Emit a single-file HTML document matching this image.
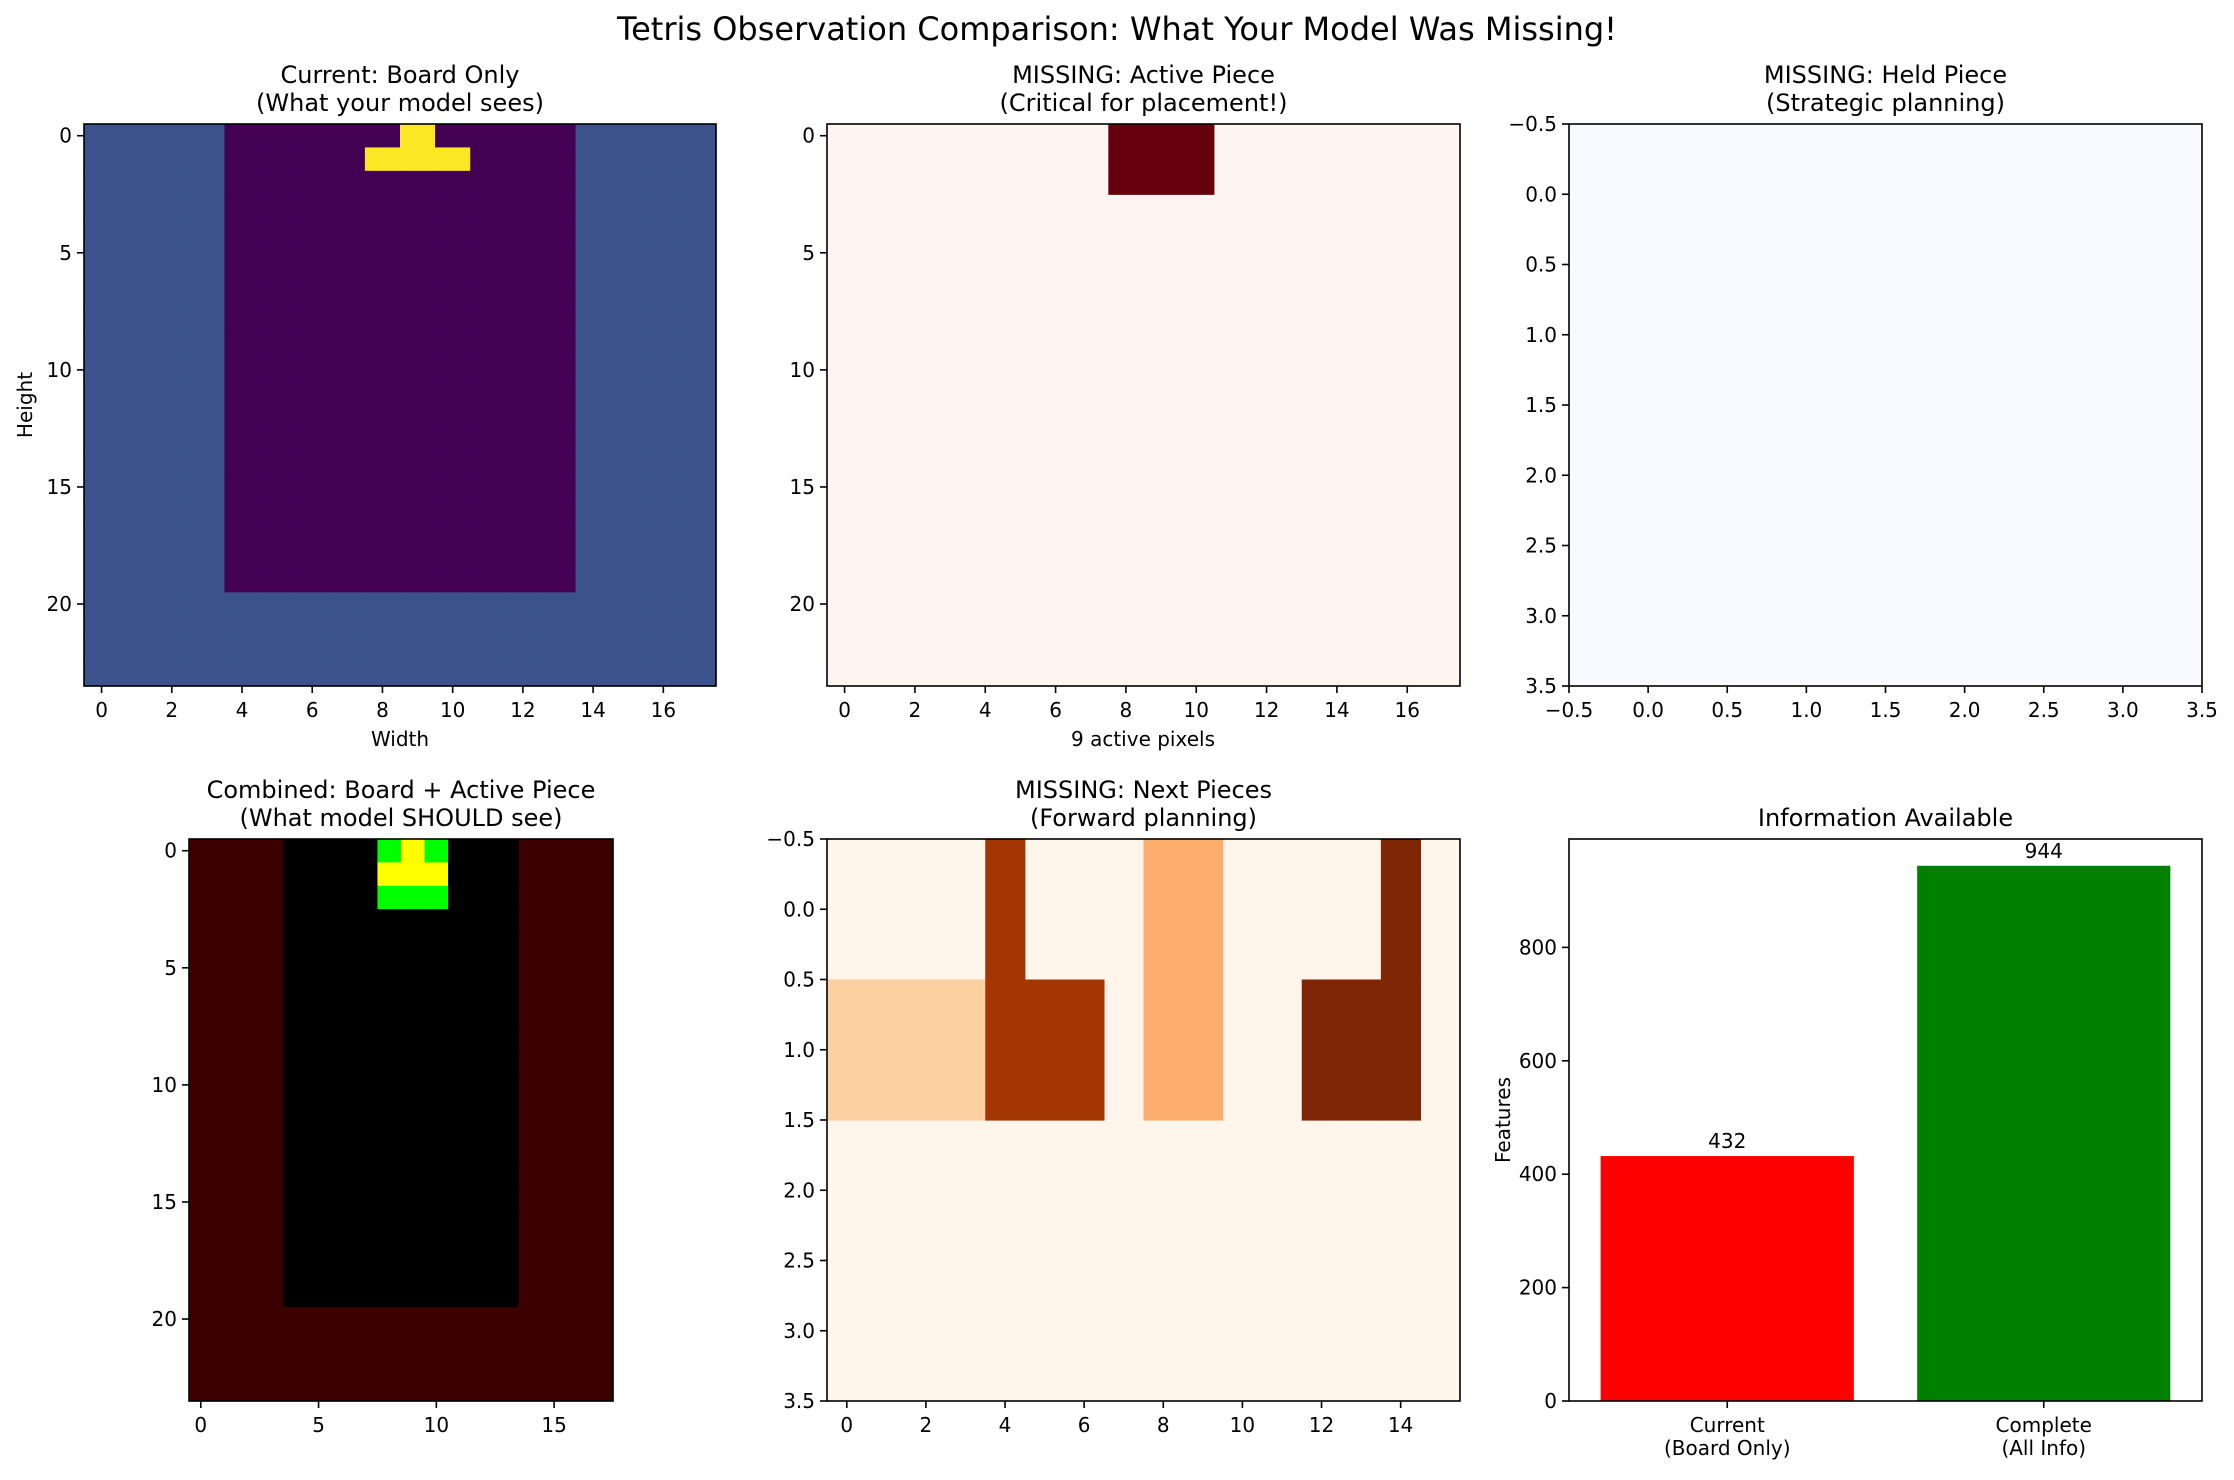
<!DOCTYPE html>
<html><head><meta charset="utf-8">
<style>
html,body{margin:0;padding:0;background:#fff;}
svg text{font-family:"DejaVu Sans","Liberation Sans",sans-serif;fill:#000;}
</style></head>
<body>
<svg id="fig" width="2234" height="1475" viewBox="0 0 2234 1475" xmlns="http://www.w3.org/2000/svg">
<rect width="2234" height="1475" fill="#fff"/>
<text x="1117" y="40" font-size="32" text-anchor="middle">Tetris Observation Comparison: What Your Model Was Missing!</text>
</svg>
<script>
// ---- data ----
// board: W = wall, . = empty, P = piece
const boardRows = [
"WWWW.....P....WWWW",
"WWWW....PPP...WWWW",
"WWWW..........WWWW","WWWW..........WWWW","WWWW..........WWWW","WWWW..........WWWW",
"WWWW..........WWWW","WWWW..........WWWW","WWWW..........WWWW","WWWW..........WWWW",
"WWWW..........WWWW","WWWW..........WWWW","WWWW..........WWWW","WWWW..........WWWW",
"WWWW..........WWWW","WWWW..........WWWW","WWWW..........WWWW","WWWW..........WWWW",
"WWWW..........WWWW","WWWW..........WWWW",
"WWWWWWWWWWWWWWWWWW","WWWWWWWWWWWWWWWWWW","WWWWWWWWWWWWWWWWWW","WWWWWWWWWWWWWWWWWW"];
const activeRows = [
"........AAA.......","........AAA.......","........AAA......."];
const combinedTop = [
"WWWW....GYG...WWWW",
"WWWW....YYY...WWWW",
"WWWW....GGG...WWWW"];
const nextRows = [
"....A...BB....C.",
"DDDDAAA.BB..CCC.",
"................",
"................"];
const barCategories = ["Current\n(Board Only)", "Complete\n(All Info)"];
const barValues = [432, 944];
const barColors = ["#ff0000", "#008000"];
const yTicksBar = [0,200,400,600,800];

const svg = document.getElementById('fig');
const NS = 'http://www.w3.org/2000/svg';
function mk(tag, attrs, parent){
  const e = document.createElementNS(NS, tag);
  for (const k in attrs) e.setAttribute(k, attrs[k]);
  (parent||svg).appendChild(e); return e;
}
function fmt(v, dec){ const s = v.toFixed(dec); return s.replace('-', '\u2212'); }

function axes(name, L, R, T, B, xlim, ylim){
  const g = mk('g', {});
  
  
  const sx = v => L + (v - xlim[0]) / (xlim[1] - xlim[0]) * (R - L);
  const sy = v => T + (v - ylim[0]) / (ylim[1] - ylim[0]) * (B - T);
  return {g, sx, sy, L, R, T, B};
}
function frame(a){
  const f = mk('rect', {x:a.L, y:a.T, width:a.R-a.L, height:a.B-a.T, fill:'none', stroke:'#000', 'stroke-width':1.6}, a.g);
  
  
}
function xticks(a, vals, dec){
  vals.forEach(v => {
    const x = a.sx(v);
    mk('line', {x1:x, x2:x, y1:a.B, y2:a.B+7, stroke:'#000', 'stroke-width':1.6}, a.g);
    const t = mk('text', {x:x, y:a.B+31, 'font-size':20, 'text-anchor':'middle'}, a.g);
    
    
    t.textContent = fmt(v, dec);
  });
}
function yticks(a, vals, dec){
  vals.forEach(v => {
    const y = a.sy(v);
    mk('line', {x1:a.L-7, x2:a.L, y1:y, y2:y, stroke:'#000', 'stroke-width':1.6}, a.g);
    const t = mk('text', {x:a.L-12, y:y+7, 'font-size':20, 'text-anchor':'end'}, a.g);
    
    
    t.textContent = fmt(v, dec);
  });
}
function title(a, lines){
  const cx = (a.L + a.R) / 2;
  const ys = lines.length === 2 ? [83, 111] : [111];
  lines.forEach((s, i) => {
    const t = mk('text', {x:cx, y:a.T - 124 + ys[i], 'font-size':24, 'text-anchor':'middle'}, a.g);
    
    
    t.textContent = s;
  });
}
function heat(a, rows, cmap, bg){
  const bgr = mk('rect', {x:a.L, y:a.T, width:a.R-a.L, height:a.B-a.T, fill:bg}, a.g);
  
  
  rows.forEach((row, r) => {
    [...row].forEach((ch, c) => {
      if (!(ch in cmap)) return;
      const x0 = a.sx(c - 0.5), x1 = a.sx(c + 0.5), y0 = a.sy(r - 0.5), y1 = a.sy(r + 0.5);
      const cell = mk('rect', {x:x0, y:y0, width:x1-x0+0.6, height:y1-y0+0.6, fill:cmap[ch]}, a.g);
      
      
    });
  });
}

// Panel 1: board only
let a1 = axes('board-only-panel', 84, 716, 124, 686, [-0.5,17.5], [-0.5,23.5]);
heat(a1, boardRows, {W:'#3b528b', '.':'#440154', P:'#fde725'}, '#440154');
frame(a1); xticks(a1, [0,2,4,6,8,10,12,14,16], 0); yticks(a1, [0,5,10,15,20], 0);
title(a1, ['Current: Board Only', '(What your model sees)']);
let t = mk('text', {x:400, y:746, 'font-size':20, 'text-anchor':'middle'}, a1.g);
  t.textContent = 'Width';
t = mk('text', {x:0, y:0, 'font-size':20, 'text-anchor':'middle', transform:'translate(32,405) rotate(-90)'}, a1.g);
  t.textContent = 'Height';

// Panel 2: active piece
let a2 = axes('active-piece-panel', 827, 1460, 124, 686, [-0.5,17.5], [-0.5,23.5]);
heat(a2, activeRows, {A:'#67000d'}, '#fff5f0');
frame(a2); xticks(a2, [0,2,4,6,8,10,12,14,16], 0); yticks(a2, [0,5,10,15,20], 0);
title(a2, ['MISSING: Active Piece', '(Critical for placement!)']);
t = mk('text', {x:1143, y:746, 'font-size':20, 'text-anchor':'middle'}, a2.g);
  t.textContent = '9 active pixels';

// Panel 3: held piece
let a3 = axes('held-piece-panel', 1569, 2202, 124, 686, [-0.5,3.5], [-0.5,3.5]);
heat(a3, [], {}, '#f7fbff');
const ht = [-0.5,0,0.5,1,1.5,2,2.5,3,3.5];
frame(a3); xticks(a3, ht, 1); yticks(a3, ht, 1);
title(a3, ['MISSING: Held Piece', '(Strategic planning)']);

// Panel 4: combined
let a4 = axes('combined-panel', 189, 613, 839, 1401, [-0.5,17.5], [-0.5,23.5]);
const combRows = boardRows.map((r, i) => i < combinedTop.length ? combinedTop[i] : r);
heat(a4, combRows, {W:'#3d0000', '.':'#000000', G:'#00ff00', Y:'#ffff00'}, '#000');
frame(a4); xticks(a4, [0,5,10,15], 0); yticks(a4, [0,5,10,15,20], 0);
title(a4, ['Combined: Board + Active Piece', '(What model SHOULD see)']);

// Panel 5: next pieces
let a5 = axes('next-pieces-panel', 827, 1460, 839, 1401, [-0.5,15.5], [-0.5,3.5]);
heat(a5, nextRows, {A:'#a33603', B:'#fdad6b', C:'#7f2704', D:'#fdd0a2'}, '#fff5eb');
frame(a5); xticks(a5, [0,2,4,6,8,10,12,14], 0); yticks(a5, ht, 1);
title(a5, ['MISSING: Next Pieces', '(Forward planning)']);

// Panel 6: bar chart
const yMax = Math.max(...barValues) * 1.05;
let a6 = axes('information-bar-chart', 1569, 2202, 839, 1401, [-0.5,1.5], [yMax, 0]);
barValues.forEach((v, i) => {
  const x0 = a6.sx(i - 0.4), x1 = a6.sx(i + 0.4), y0 = a6.sy(v);
  const b = mk('rect', {x:x0, y:y0, width:x1-x0, height:a6.B-y0, fill:barColors[i]}, a6.g);
  
  
  const lbl = mk('text', {x:a6.sx(i), y:y0 - 8, 'font-size':20, 'text-anchor':'middle'}, a6.g);
  
  
  lbl.textContent = String(v);
  const x = a6.sx(i);
  mk('line', {x1:x, x2:x, y1:a6.B, y2:a6.B+7, stroke:'#000', 'stroke-width':1.6}, a6.g);
  barCategories[i].split('\n').forEach((s, k) => {
    const c = mk('text', {x:x, y:a6.B + 31 + k*23, 'font-size':20, 'text-anchor':'middle'}, a6.g);
    
    
    c.textContent = s;
  });
});
frame(a6); yticks(a6, yTicksBar, 0);
title(a6, ['Information Available']);
t = mk('text', {x:0, y:0, 'font-size':20, 'text-anchor':'middle', transform:'translate(1510,1120) rotate(-90)'}, a6.g);
  t.textContent = 'Features';
</script>
</body></html>
